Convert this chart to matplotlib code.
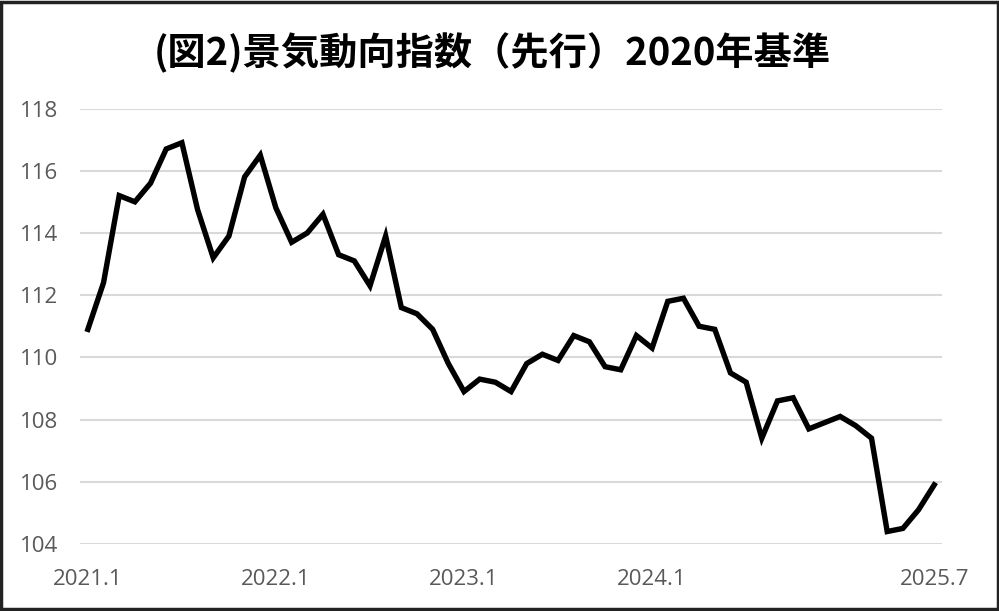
import matplotlib
matplotlib.use('Agg')
import matplotlib.pyplot as plt
from matplotlib.patches import Rectangle

# 景気動向指数（先行） 2021.1 - 2025.7, monthly
values_2021 = [110.9, 112.4, 115.2, 115.0, 115.6, 116.7, 116.9, 114.75, 113.2, 113.9, 115.8, 116.5]
values_2022 = [114.8, 113.7, 114.0, 114.6, 113.3, 113.1, 112.3, 113.9, 111.6, 111.4, 110.9, 109.8]
values_2023 = [108.9, 109.3, 109.2, 108.9, 109.8, 110.1, 109.9, 110.7, 110.5, 109.7, 109.6, 110.7]
values_2024 = [110.3, 111.8, 111.9, 111.0, 110.9, 109.5, 109.2, 107.4, 108.6, 108.7, 107.7, 107.9]
values_2025 = [108.1, 107.8, 107.4, 104.4, 104.5, 105.1, 105.9]
values = values_2021 + values_2022 + values_2023 + values_2024 + values_2025

tick_pos = [0, 12, 24, 36, 54]
tick_labels = ['2021.1', '2022.1', '2023.1', '2024.1', '2025.7']
y_ticks = [104, 106, 108, 110, 112, 114, 116, 118]

title = '(図2)景気動向指数（先行）2020年基準'

plt.rcParams['font.family'] = ['Open Sans', 'DejaVu Sans']

fig = plt.figure(figsize=(9.99, 6.11), dpi=100)
ax = fig.add_axes([0.0801, 0.1097, 0.8629, 0.7127])

ax.plot(range(len(values)), values, color='black', lw=3.9, solid_joinstyle='miter')

ax.set_xlim(-0.5, len(values) - 0.5)
ax.set_ylim(104, 118)
ax.set_yticks(y_ticks)
ax.set_xticks(tick_pos)
ax.set_xticklabels(tick_labels)
ax.grid(axis='y', color='#d9d9d9', lw=1.5)
ax.set_axisbelow(True)
for s in ax.spines.values():
    s.set_visible(False)
ax.tick_params(length=0, labelsize=16, colors='#595959')
ax.tick_params(axis='y', pad=16)
ax.tick_params(axis='x', pad=18)

fig.text(0.493, 0.913, title, ha='center', va='center', fontsize=27.5,
         fontweight='bold', family=['Noto Sans CJK JP', 'DejaVu Sans'])

# frame around the whole chart
fig.patches.append(Rectangle((0.0015, 0.0025), 0.997, 0.995, transform=fig.transFigure,
                             fill=False, ec='#222222', lw=2.5))

fig.savefig('out.png', dpi=100)
